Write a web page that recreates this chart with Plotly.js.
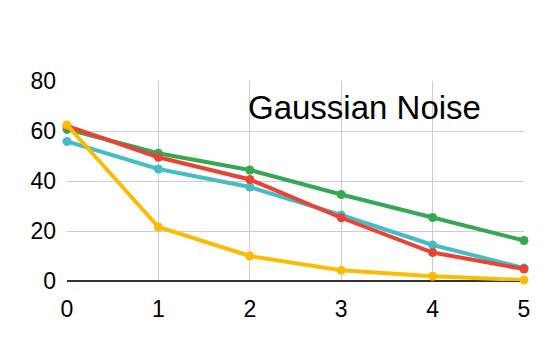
<!DOCTYPE html>
<html><head><meta charset="utf-8">
<script src="https://cdn.plot.ly/plotly-3.0.1.min.js"></script>
<style>html,body{margin:0;padding:0;background:#fff}#c{width:546px;height:338px}</style>
</head><body><div id="c"></div>
<script>
const xVals = [0, 1, 2, 3, 4, 5];
const greenVals = [60.7, 51.1, 44.4, 34.6, 25.4, 16.2];
const cyanVals = [55.8, 44.8, 37.6, 26.4, 14.4, 5.2];
const redVals = [62.0, 49.5, 40.6, 25.3, 11.4, 4.8];
const yellowVals = [62.4, 21.6, 10.0, 4.3, 1.9, 0.4];
const seriesNames = ['A', 'B', 'C', 'D'];
const colors = ['#34A853', '#46BDC6', '#EA4335', '#FBBC04'];
const allVals = [greenVals, cyanVals, redVals, yellowVals];
const titleText = 'Gaussian Noise';

const traces = allVals.map((v, i) => ({
  x: xVals, y: v, name: seriesNames[i], type: 'scatter', mode: 'lines+markers',
  line: {color: colors[i], width: 4}, marker: {color: colors[i], size: 9},
  cliponaxis: false
}));

const layout = {
  width: 546, height: 338,
  margin: {l: 67, r: 22, t: 81, b: 57},
  paper_bgcolor: '#fff', plot_bgcolor: '#fff',
  showlegend: false,
  font: {family: 'Liberation Sans, Arial, sans-serif', color: '#000'},
  xaxis: {range: [0, 5], tickvals: xVals, showgrid: true, gridcolor: '#cccccc', gridwidth: 1,
    zeroline: false, showline: false, tickfont: {size: 23, color: '#000'}, ticks: '', ticklen: 0,
    ticklabelstandoff: 12},
  yaxis: {range: [0, 80], tickvals: [0, 20, 40, 60, 80], showgrid: true, gridcolor: '#cccccc', gridwidth: 1,
    zeroline: true, zerolinecolor: '#333333', zerolinewidth: 2, showline: false,
    tickfont: {size: 23, color: '#000'}, ticks: '', ticklen: 0, ticklabelstandoff: 10},
  annotations: [{text: titleText, xref: 'x', yref: 'y', showarrow: false,
    x: (246 - 67) / 91.3, y: (281 - 107) / 2.5,
    font: {size: 33, color: '#000'}, xanchor: 'left', yanchor: 'middle'}]
};
Plotly.newPlot('c', traces, layout, {displayModeBar: false, staticPlot: true});
</script></body></html>
